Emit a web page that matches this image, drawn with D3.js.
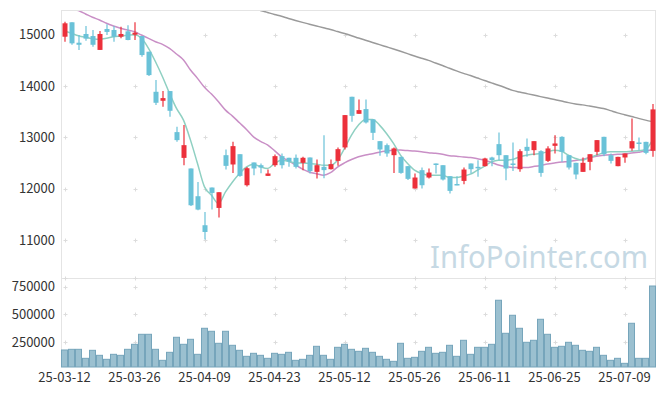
<!DOCTYPE html>
<html><head><meta charset="utf-8">
<script src="https://cdn.jsdelivr.net/npm/d3@7"></script>
<style>html,body{margin:0;padding:0;background:#fff;}svg{display:block;}</style>
</head><body>
<svg id="c" width="665" height="396"></svg>
<script>
const dateLabels = ["25-03-12","25-03-26","25-04-09","25-04-23","25-05-12","25-05-26","25-06-11","25-06-25","25-07-09"];
const labelIndex = [0,10,20,30,40,50,60,70,80];
const opens  = [14957,15238,14840,15010,14970,14700,15107,15088,14957,15062,14996,14970,14665,13885,13710,13899,13100,12598,12392,11852,11287,12021,11624,12651,12470,12670,12066,12509,12456,12248,12456,12632,12600,12600,12502,12606,12326,12424,12378,12540,12801,13788,13456,13548,13347,12924,12846,12651,12618,12437,12002,12359,12216,12489,12456,12242,12090,12150,12489,12424,12437,12606,12866,12651,12489,12378,12813,12749,12729,12540,12833,13008,12651,12502,12326,12521,12716,13008,12651,12437,12606,12782,12898,12910,12735];
const highs  = [15250,15240,14990,15165,15090,15070,15200,15165,15150,15180,15240,14970,14665,14113,13900,13899,13203,13236,12392,12130,11546,12021,11930,12762,12910,12670,12420,12509,12489,12372,12665,12684,12600,12665,12618,12606,12567,13041,12567,12801,13431,13788,13737,13737,13347,12924,12880,12800,12620,12440,12294,12411,12392,12489,12456,12242,12240,12411,12489,12554,12600,12618,13093,12651,12898,12768,12977,12924,12749,12827,13041,13020,12651,12502,12606,12670,12944,13008,12684,12618,12684,13366,12996,12910,13645];
const lows   = [14860,14800,14700,14880,14760,14700,14990,14860,14925,14890,14893,14567,14190,13626,13593,13400,12910,12456,11660,11580,11008,11592,11436,12372,12306,12230,12040,12261,12300,12248,12424,12392,12424,12392,12359,12294,12197,12200,12370,12443,12762,13300,13456,13269,12944,12638,12618,12306,12290,12170,12000,12002,12197,12294,12160,11905,12066,12086,12294,12229,12430,12437,12554,12164,12345,12326,12618,12651,12229,12520,12684,12521,12372,12183,12326,12359,12651,12630,12489,12437,12502,12735,12749,12670,12618];
const closes = [15218,14828,14800,14920,14800,15010,15050,14957,15010,14893,15035,14600,14210,13671,13762,13515,12944,12846,11676,11592,11156,11916,11930,12443,12827,12248,12397,12392,12411,12294,12632,12456,12528,12424,12600,12340,12456,12360,12476,12768,13431,13417,13528,13288,13086,12762,12684,12782,12306,12190,12216,12066,12313,12462,12177,11956,12080,12372,12378,12404,12587,12554,12651,12392,12470,12729,12735,12924,12306,12782,12879,12716,12411,12275,12502,12670,12944,12670,12540,12618,12684,12924,12880,12696,13542];
const volumes = [181000,187000,187000,106000,178000,133000,97000,142000,133000,187000,232000,322000,322000,187000,88000,160000,295000,232000,277000,142000,376000,349000,241000,349000,223000,178000,124000,151000,133000,106000,151000,142000,160000,88000,97000,133000,214000,133000,97000,205000,232000,187000,169000,196000,160000,124000,97000,79000,241000,106000,115000,169000,205000,151000,160000,223000,124000,268000,142000,205000,205000,232000,628000,331000,493000,376000,250000,268000,457000,322000,205000,214000,250000,223000,178000,169000,205000,133000,88000,106000,61000,421000,106000,106000,756000];
const ma5  = [15068,15023,14977,14945,14918,14906,14926,14957,14971,14984,14996,14926,14731,14470,14177,13854,13561,13333,12944,12489,12034,11871,11710,11936,12130,12294,12424,12476,12424,12392,12489,12554,12534,12501,12501,12489,12476,12456,12456,12554,12782,13041,13236,13347,13347,13236,13074,12879,12651,12489,12359,12294,12261,12261,12261,12216,12216,12242,12281,12359,12437,12521,12554,12554,12567,12618,12651,12670,12684,12716,12749,12729,12651,12587,12554,12606,12651,12696,12716,12716,12716,12729,12736,12762,12944];
const ma20 = [15560,15515,15464,15400,15335,15283,15218,15166,15121,15088,15055,14990,14926,14860,14809,14731,14620,14503,14308,14146,13971,13840,13690,13528,13411,13281,13152,13008,12920,12850,12740,12620,12540,12460,12380,12320,12290,12261,12310,12420,12500,12567,12620,12655,12680,12710,12730,12745,12750,12740,12730,12716,12700,12688,12670,12640,12630,12615,12606,12580,12554,12510,12460,12430,12412,12410,12410,12430,12452,12480,12500,12518,12530,12548,12570,12605,12630,12648,12660,12668,12676,12692,12710,12730,12760];
const ma60 = [null,null,null,null,null,null,null,null,null,null,null,null,null,null,null,null,null,null,null,null,null,null,null,null,null,null,null,15517,15468,15429,15390,15355,15312,15273,15236,15201,15166,15131,15097,15058,15019,14977,14932,14889,14846,14803,14760,14717,14673,14628,14581,14538,14497,14444,14396,14343,14292,14244,14201,14152,14103,14058,14012,13963,13912,13879,13850,13821,13791,13762,13733,13704,13674,13649,13630,13606,13583,13561,13518,13474,13439,13404,13367,13333,13304];
const priceTicks = [11000,12000,13000,14000,15000];
const volumeTicks = [250000,500000,750000];

(function draw() {
const svg = d3.select("#c");
const L = 61, R = 656, T = 10, M = 278, B = 367;
const n = closes.length;
const idx = d3.range(n);
const x = d3.scaleBand().domain(idx).range([L, R]).padding(0);
const cx = i => x(i) + x.bandwidth() / 2;
const y = d3.scaleLinear().domain([10260, 15477]).range([M, T]);
const yv = d3.scaleLinear().domain([28000, 828000]).range([B, M]);

const font = "'Noto Sans CJK KR','Noto Sans',sans-serif";
const grid = "#e4e4e4";

// frame
svg.append("line").attr("x1", L).attr("x2", R).attr("y1", T + .5).attr("y2", T + .5).attr("stroke", grid);
svg.append("line").attr("x1", L).attr("x2", R).attr("y1", M + .5).attr("y2", M + .5).attr("stroke", grid);
svg.append("line").attr("x1", L + .5).attr("x2", L + .5).attr("y1", T).attr("y2", B).attr("stroke", grid);
svg.append("line").attr("x1", R - .5).attr("x2", R - .5).attr("y1", T).attr("y2", B).attr("stroke", grid);

// watermark
svg.append("text").attr("x", 648).attr("y", 268).attr("text-anchor", "end")
  .attr("font-family", "'Noto Sans',sans-serif").attr("font-size", 30)
  .attr("textLength", 218).attr("lengthAdjust", "spacingAndGlyphs")
  .attr("fill", "#c6d9e4").text("InfoPointer.com");

// grid crosses
const crossG = svg.append("g").attr("stroke", "#dcdcdc").attr("stroke-width", 1);
const crossYs = priceTicks.map(v => y(v)).concat(volumeTicks.map(v => yv(v)), [M]);
labelIndex.forEach(i => {
  crossYs.forEach(yy => {
    const xx = Math.round(cx(i)) + .5, y0 = Math.round(yy) + .5;
    crossG.append("line").attr("x1", xx - 2).attr("x2", xx + 2).attr("y1", y0).attr("y2", y0);
    crossG.append("line").attr("x1", xx).attr("x2", xx).attr("y1", y0 - 2).attr("y2", y0 + 2);
  });
});

// axes (text only)
const yAxis = d3.axisLeft(y).tickValues(priceTicks).tickSize(0).tickPadding(6).tickFormat(d3.format("d"));
const ga = svg.append("g").attr("transform", `translate(${L},0)`).call(yAxis);
const yvAxis = d3.axisLeft(yv).tickValues(volumeTicks).tickSize(0).tickPadding(6).tickFormat(d3.format("d"));
const gv = svg.append("g").attr("transform", `translate(${L},0)`).call(yvAxis);
const xAxis = d3.axisBottom(x).tickValues(labelIndex).tickSize(0).tickPadding(6)
  .tickFormat(i => dateLabels[labelIndex.indexOf(i)]);
const gx = svg.append("g").attr("transform", `translate(0,${B})`).call(xAxis);
[ga, gv, gx].forEach(g => {
  g.select(".domain").remove();
  g.selectAll("text").attr("font-family", font).attr("font-size", 13).attr("fill", "#333");
});

// clip
svg.append("clipPath").attr("id", "pc").append("rect").attr("x", L).attr("y", T + 1).attr("width", R - L).attr("height", M - T - 1);

// volume bars
svg.append("g").selectAll("rect").data(idx).join("rect")
  .attr("x", i => x(i) + .5).attr("width", x.bandwidth() - 1)
  .attr("y", i => yv(volumes[i])).attr("height", i => B - yv(volumes[i]))
  .attr("fill", "#9bc0d0").attr("stroke", "#76a5bb").attr("stroke-width", 1);

// MA lines
const pg = svg.append("g").attr("clip-path", "url(#pc)");
const mkLine = arr => d3.line().defined(i => arr[i] !== null).x(i => cx(i)).y(i => y(arr[i])).curve(d3.curveMonotoneX)(idx);
pg.append("path").attr("d", mkLine(ma60)).attr("fill", "none").attr("stroke", "#9a9a9a").attr("stroke-width", 1.5);
pg.append("path").attr("d", mkLine(ma20)).attr("fill", "none").attr("stroke", "#c98fc6").attr("stroke-width", 1.5);
pg.append("path").attr("d", mkLine(ma5)).attr("fill", "none").attr("stroke", "#8fd0c2").attr("stroke-width", 1.5);

// candles
const up = "#ec303b", down = "#6ac2d8";
const cg = pg.append("g");
idx.forEach(i => {
  const col = closes[i] >= opens[i] ? up : down;
  const xx = Math.round(cx(i));
  cg.append("line").attr("x1", xx).attr("x2", xx).attr("y1", y(highs[i])).attr("y2", y(lows[i]))
    .attr("stroke", col).attr("stroke-width", 1.2);
  const yt = y(Math.max(opens[i], closes[i])), yb = y(Math.min(opens[i], closes[i]));
  cg.append("rect").attr("x", xx - 2.5).attr("width", 5).attr("y", yt).attr("height", Math.max(1.5, yb - yt)).attr("fill", col);
});
})();
</script>
</body></html>
